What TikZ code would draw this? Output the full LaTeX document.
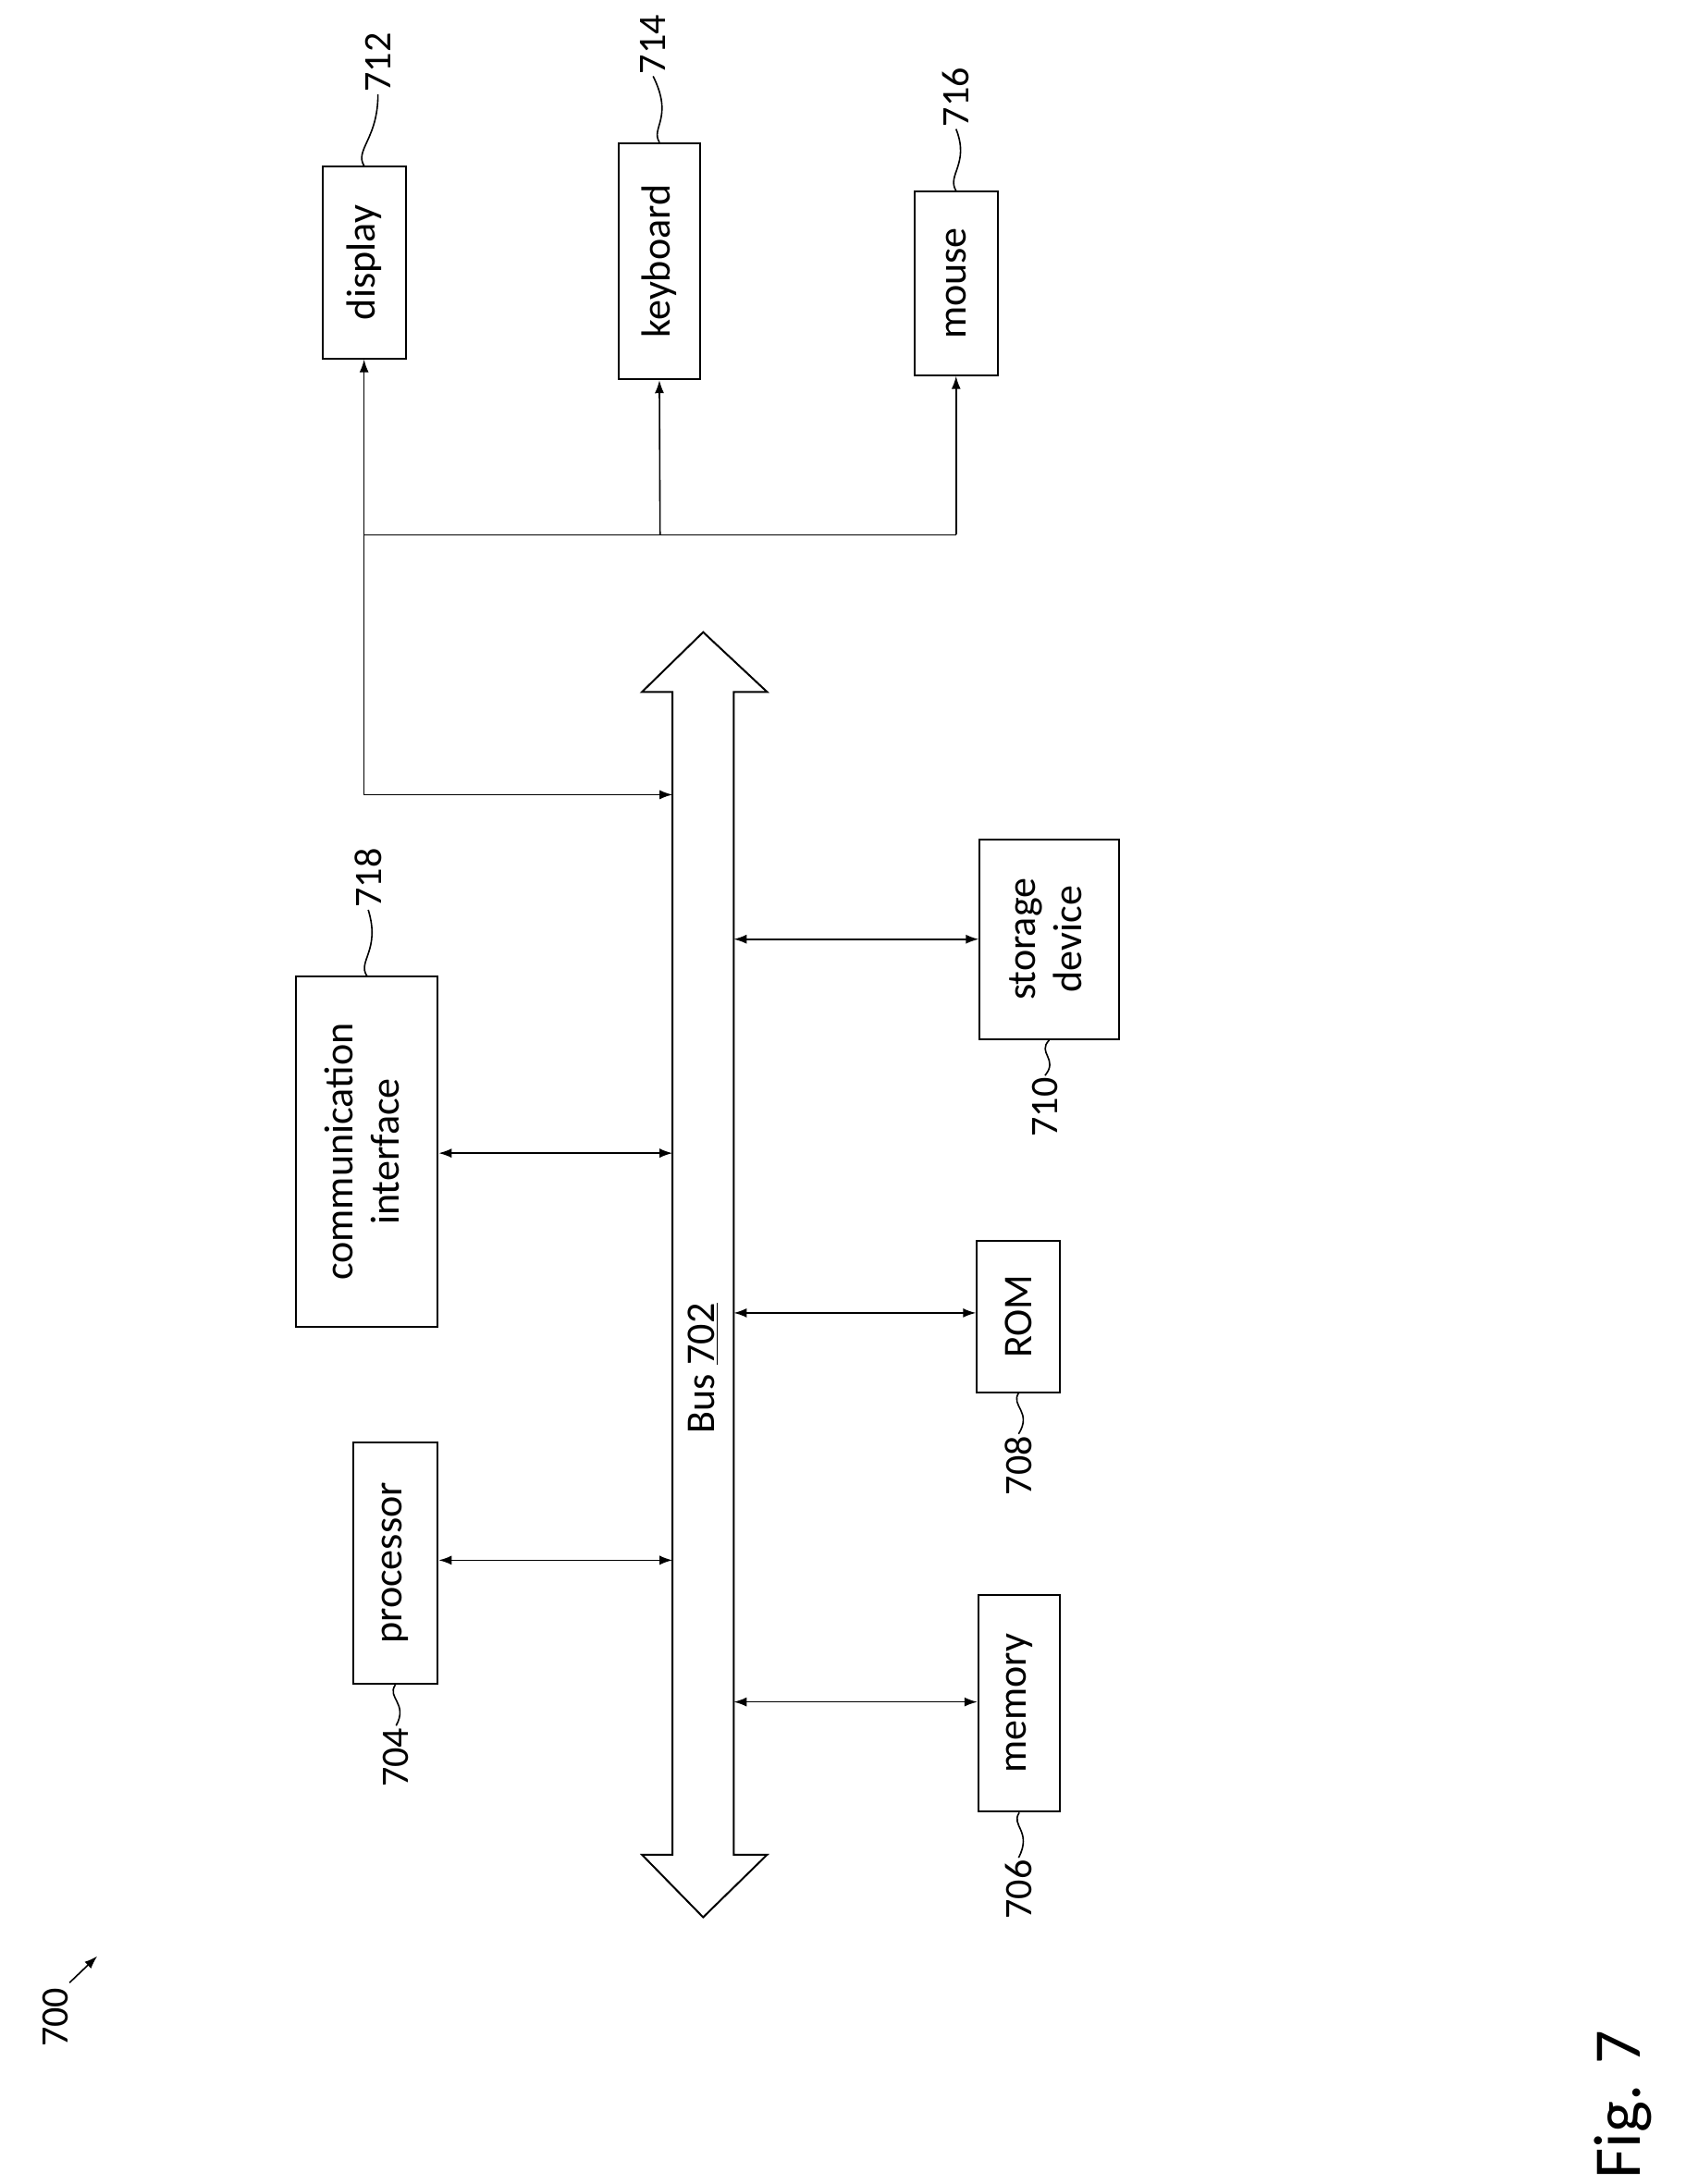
\documentclass[tikz,border=0pt]{standalone}
\usepackage{fontspec}
\setmainfont{Carlito}
\usetikzlibrary{arrows.meta}
\newlength\uu \setlength\uu{0.75pt}
\begin{document}
\begin{tikzpicture}[x=0.75pt,y=-0.75pt,
 box/.style={draw,line width=1pt,inner sep=0pt,font=\fontsize{22}{25}\selectfont},
 lab/.style={font=\fontsize{21}{24}\selectfont,rotate=90,inner sep=1pt},
 ar/.style={line width=0.8pt,-{Latex[length=7pt,width=5pt]}},
 dar/.style={line width=0.8pt,{Latex[length=7pt,width=5pt]}-{Latex[length=7pt,width=5pt]}},
 ld/.style={line width=0.8pt}]
\useasboundingbox (0,0) rectangle (1213,1572);
% boxes
\node[box,minimum width=60\uu,minimum height=138\uu] (disp) at (262,189) {\rotatebox{90}{display}};
\node[box,minimum width=59\uu,minimum height=170\uu] (kbd) at (474.5,188) {\rotatebox{90}{keyboard}};
\node[box,minimum width=60\uu,minimum height=132\uu] (mouse) at (688,204) {\rotatebox{90}{mouse}};
\node[box,minimum width=102\uu,minimum height=252\uu] (comm) at (264,829) {\rotatebox{90}{\begin{tabular}{c}communication\\interface\end{tabular}}};
\node[box,minimum width=61\uu,minimum height=174\uu] (proc) at (284.5,1125) {\rotatebox{90}{processor}};
\node[box,minimum width=100\uu,minimum height=144\uu] (stor) at (755,676) {\rotatebox{90}{\begin{tabular}{c}storage\\device\end{tabular}}};
\node[box,minimum width=60\uu,minimum height=109\uu] (rom) at (733,947.5) {\rotatebox{90}{ROM}};
\node[box,minimum width=59\uu,minimum height=156\uu] (mem) at (733.5,1226) {\rotatebox{90}{memory}};
% bus
\draw[line width=1pt] (484,498) -- (462,498) -- (506,455) -- (552,498) -- (528,498)
  -- (528,1335) -- (552,1335) -- (506,1380) -- (462,1335) -- (484,1335) -- cycle;
\node[font=\fontsize{22}{25}\selectfont,rotate=90] (bus) at (506,985) {Bus \underline{702}};
\coordinate (bL1) at (484,572);
\coordinate (bL2) at (484,830);
\coordinate (bL3) at (484,1123);
\coordinate (bR1) at (528,676);
\coordinate (bR2) at (528,945);
\coordinate (bR3) at (528,1225);
% io lines
\coordinate (j1) at (262,385);
\coordinate (j2) at (475,385);
\coordinate (j3) at (688,385);
\coordinate (j4) at (262,572);
\draw[ld] (j1) -- (j3);
\draw[ar] (j1) -- (disp.south);
\draw[ar] (j2) -- (kbd.south);
\draw[ar] (j3) -- (mouse.south);
\draw[ar] (j1) -- (j4) -- (bL1);
\draw[dar] (comm.east |- bL2) -- (bL2);
\draw[dar] (proc.east |- bL3) -- (bL3);
\draw[dar] (bR1) -- (stor.west |- bR1);
\draw[dar] (bR2) -- (rom.west |- bR2);
\draw[dar] (bR3) -- (mem.west |- bR3);
% reference labels
\node[lab] (l712) at (272,45) {712};
\draw[ld] (disp.north) .. controls (255,108) and (272,100) .. (l712.west);
\node[lab] (l714) at (470,32) {714};
\draw[ld] (kbd.north) .. controls (468,92) and (485,85) .. (l714.west);
\node[lab] (l716) at (688,70) {716};
\draw[ld] (mouse.north) .. controls (681,126) and (698,118) .. (l716.west);
\node[lab] (l718) at (265,632) {718};
\draw[ld] (comm.north) .. controls (257,692) and (274,684) .. (l718.west);
\node[lab] (l704) at (285,1265) {704};
\draw[ld] (proc.south) .. controls (278,1222) and (294,1226) .. (l704.east);
\node[lab] (l710) at (752,797) {710};
\draw[ld] (stor.south) .. controls (746,758) and (762,762) .. (l710.east);
\node[lab] (l708) at (733,1055) {708};
\draw[ld] (rom.south) .. controls (727,1012) and (743,1016) .. (l708.east);
\node[lab] (l706) at (733,1360) {706};
\draw[ld] (mem.south) .. controls (727,1314) and (743,1318) .. (l706.east);
\node[lab] (l700) at (40,1452) {700};
\coordinate (a700) at (70,1408);
\draw[ar] (l700.east) ++(10,-2) -- (a700);
\node[font=\fontsize{36}{40}\selectfont,rotate=90] (fig) at (1168,1515) {Fig. 7};
\end{tikzpicture}
\end{document}
